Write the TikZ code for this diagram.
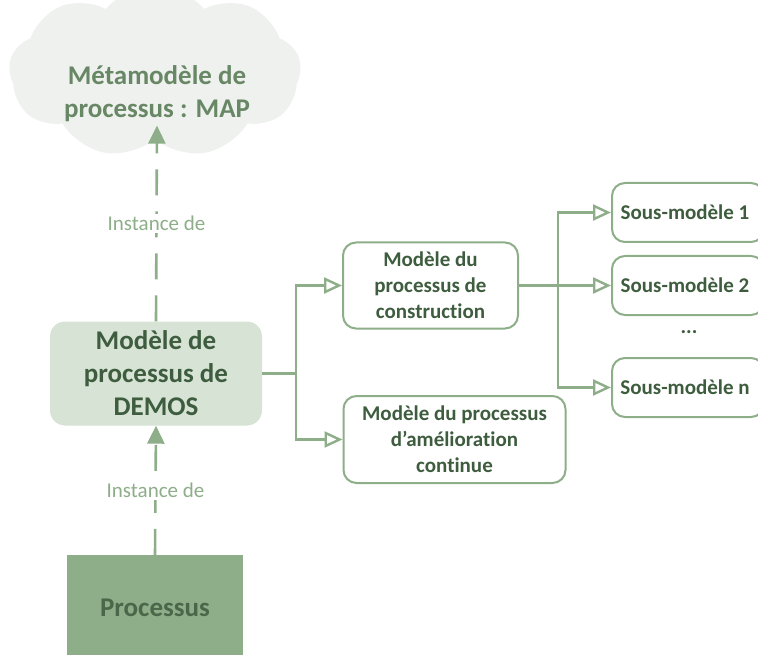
\documentclass[tikz,border=0pt]{standalone}
\usepackage{fontspec}
\setmainfont[Ligatures=NoCommon]{Carlito}
\usetikzlibrary{arrows.meta,positioning,shapes.symbols}
\definecolor{lgreen}{RGB}{141,174,137}
\definecolor{pgreen}{RGB}{214,227,213}
\definecolor{dgreen}{RGB}{62,92,62}
\definecolor{mgreen}{RGB}{104,135,100}
\definecolor{cloudg}{RGB}{239,241,239}
\tikzset{
  brarr/.style={-{Triangle[open,length=18pt,width=16pt]}, lgreen, line width=2.4pt},
  instarr/.style={-{Triangle[length=18pt,width=17pt]}, lgreen, line width=2.6pt,
                  dash pattern=on 26pt off 16pt},
  instlab/.style={fill=white, text=lgreen, font=\fontsize{21}{25}\selectfont, inner sep=2pt},
  cloudbg/.style={cloud, cloud puffs=9, cloud puff arc=100, aspect=2, fill=cloudg,
                  minimum width=292pt, minimum height=172pt},
  metatxt/.style={text=mgreen, font=\fontsize{27}{33}\selectfont\bfseries, align=center},
  bigbox/.style={fill=pgreen, rounded corners=15pt, text=dgreen, align=center,
                 minimum width=212pt, minimum height=104pt,
                 font=\fontsize{27}{33}\selectfont\bfseries},
  procbox/.style={fill=lgreen, text=dgreen!85!lgreen, minimum width=176pt, minimum height=105pt,
                  font=\fontsize{27}{33}\selectfont\bfseries},
  smbox/.style={draw=lgreen, line width=2pt, rounded corners=13pt, text=dgreen, align=center,
                font=\fontsize{21}{26}\selectfont\bfseries},
}
\begin{document}
\begin{tikzpicture}[x=1pt, y=-1pt]
  \useasboundingbox (0,0) rectangle (758,655);
  \clip (0,0) rectangle (758,655);
  % metamodel cloud
  \node[cloudbg] (cloud) at (155,72) {};
  \node[metatxt] (meta) at (157,94) {Métamodèle de\\processus : MAP};
  % main blocks
  \node[bigbox] (demos) at (156,373.5) {Modèle de\\processus de\\DEMOS};
  \node[procbox] (proc) at (155,607.5) {Processus};
  \node[smbox, minimum width=175pt, minimum height=86pt] (constr) at (430.5,285.5)
       {Modèle du\\processus de\\construction};
  \node[smbox, minimum width=222pt, minimum height=87pt] (amelio) at (454.5,439.5)
       {Modèle du processus\\d’amélioration\\continue};
  % sub-models
  \node[smbox, minimum width=152pt, minimum height=59pt, anchor=west] (sm1) at (611,212.5) {Sous-modèle 1\hspace{6pt}};
  \node[smbox, minimum width=152pt, minimum height=59pt, anchor=west] (sm2) at (611,285.5) {Sous-modèle 2\hspace{6pt}};
  \node[smbox, minimum width=152pt, minimum height=59pt, anchor=west] (smn) at (611,387.5) {Sous-modèle n\hspace{6pt}};
  \node[text=dgreen, font=\fontsize{21}{26}\selectfont\bfseries] (dots) at (689,332) {...};
  % instance links
  \draw[instarr] (demos.north) -- node[instlab] {Instance de} (meta.south);
  \draw[instarr] (proc.north) -- node[instlab] {Instance de} (demos.south);
  % decomposition
  \draw[brarr] (demos.east) -- ++(34,0) |- (constr.west);
  \draw[brarr] (demos.east) -- ++(34,0) |- (amelio.west);
  \draw[brarr] (constr.east) -- ++(39,0) |- (sm1.west);
  \draw[brarr] (constr.east) -- (sm2.west);
  \draw[brarr] (constr.east) -- ++(39,0) |- (smn.west);
\end{tikzpicture}
\end{document}
